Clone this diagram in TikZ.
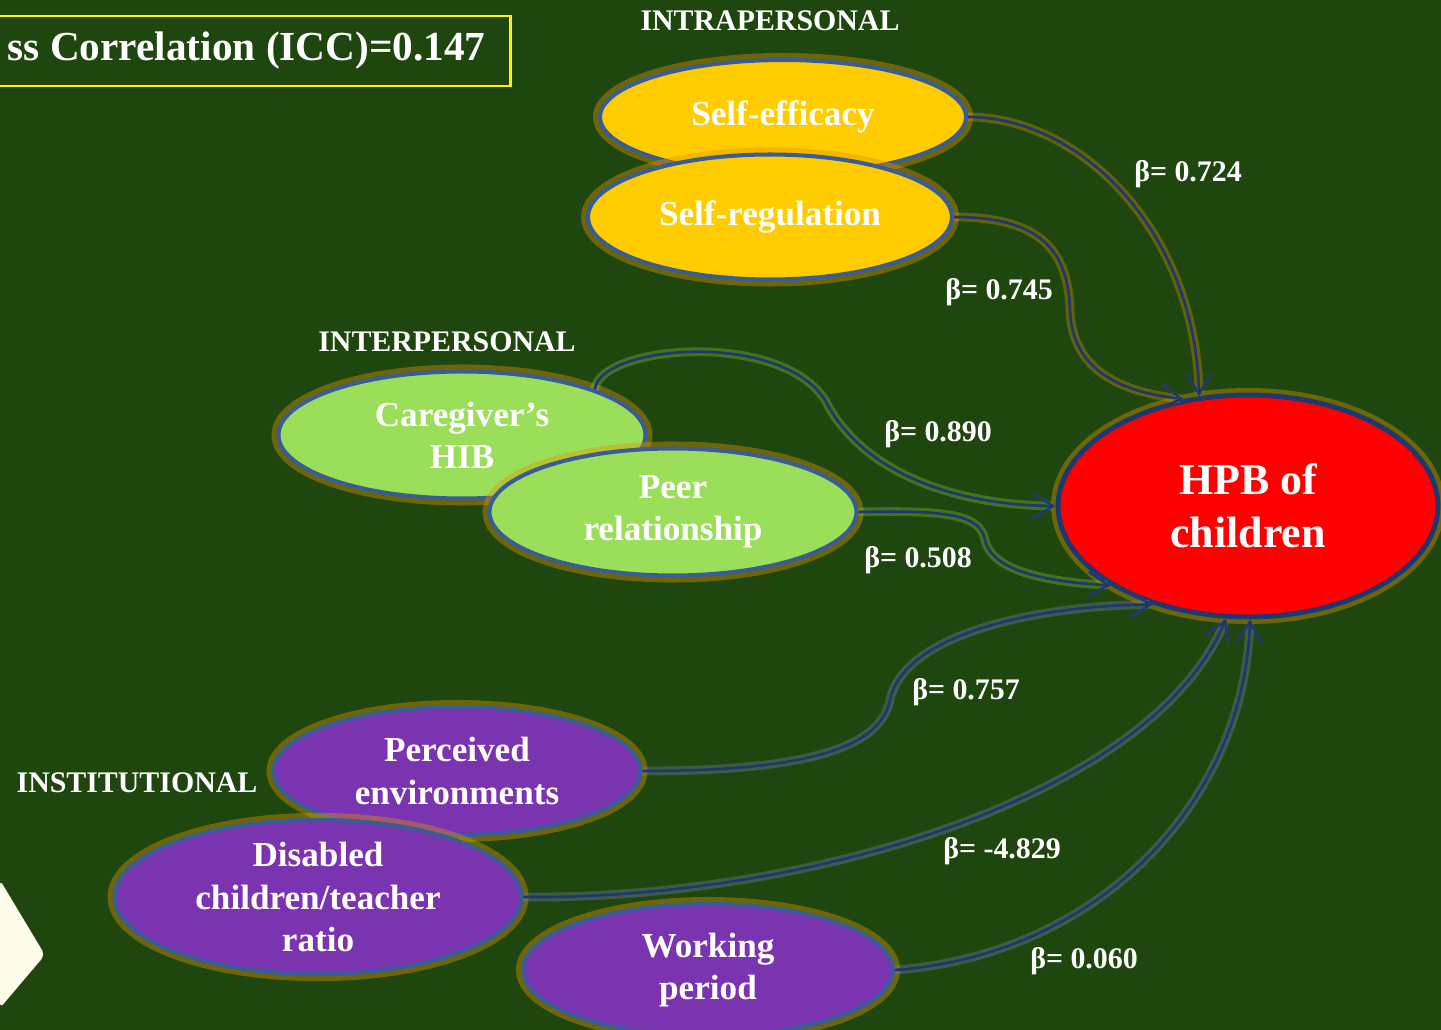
\documentclass[tikz,border=0pt]{standalone}
\usepackage{fontspec}
\setmainfont{Liberation Serif}
\usetikzlibrary{arrows.meta,shapes.geometric}

% цвета
\definecolor{fon}{RGB}{31,70,14}
\definecolor{zheltyy}{RGB}{255,204,0}
\definecolor{zelenyy}{RGB}{155,222,89}
\definecolor{fioletovyy}{RGB}{122,52,176}
\definecolor{krasnyy}{RGB}{255,0,0}
\definecolor{ramka}{RGB}{58,92,150}
\definecolor{svet}{RGB}{225,150,0}
\definecolor{liniya}{RGB}{30,55,110}
\definecolor{svetzel}{RGB}{130,200,60}
\definecolor{svetfiol}{RGB}{130,130,180}
\definecolor{krem}{RGB}{255,251,234}

\begin{document}
\begin{tikzpicture}[x=0.02cm, y=-0.02cm,
	oval/.style={ellipse, draw=ramka, line width=2.3pt, fill=#1, text=white,
		font=\fontsize{20}{24}\selectfont\bfseries, align=center, inner sep=0pt,
		preaction={draw=svet, line width=8pt, opacity=0.4}},
	strelka/.style={draw=liniya, line width=1.5pt,
		preaction={draw=#1, line width=5pt, opacity=0.35}},
	konec/.style={-{Straight Barb[length=4mm,width=5mm,line width=1.5pt]}},
	beta/.style={text=white, font=\fontsize{17}{20}\selectfont\bfseries},
	zag/.style={text=white, font=\fontsize{17}{20}\selectfont\bfseries}]

	% фон
	\fill[fon] (0,0) rectangle (1441,1030);
	\useasboundingbox (0,0) rectangle (1441,1030);

	% белый уголок слева внизу
	\fill[krem, rounded corners=3pt] (0,880) -- (45,955) -- (0,1008) -- cycle;

	% рамка с ICC
	\node[draw=yellow, line width=1.5pt, anchor=east, inner xsep=0.5cm,
		minimum height=1.4cm, text=white, font=\fontsize{23.5}{28}\selectfont\bfseries]
		(icc) at (512,51) {ss Correlation (ICC)=0.147};

	% заголовки групп
	\node[zag] (intra) at (770,21) {INTRAPERSONAL};
	\node[zag] (inter) at (447,342) {INTERPERSONAL};
	\node[zag] (inst) at (137,783) {INSTITUTIONAL};

	% внутриличностные
	\node[oval=zheltyy, minimum width=7.32cm, minimum height=2.28cm] (samoeff) at (783,117) {Self-efficacy};
	\node[oval=zheltyy, minimum width=7.28cm, minimum height=2.5cm] (samoreg) at (770,217) {Self-regulation};

	% межличностные
	\node[oval=zelenyy, minimum width=7.34cm, minimum height=2.54cm] (zabota) at (462,435) {Caregiver’s\\HIB};
	\node[oval=zelenyy, minimum width=7.34cm, minimum height=2.54cm] (sverst) at (673,512) {Peer\\relationship};

	% институциональные
	\node[oval=fioletovyy, minimum width=7.34cm, minimum height=2.56cm] (sreda) at (457,771) {Perceived\\environments};
	\node[oval=fioletovyy, minimum width=8.14cm, minimum height=2.72cm] (otnosh) at (318,897) {Disabled\\children/teacher\\ratio};
	\node[oval=fioletovyy, minimum width=7.4cm, minimum height=2.64cm] (stazh) at (708,970) {Working\\period};

	% итог
	\node[oval=krasnyy, draw=liniya, line width=2.8pt, minimum width=7.6cm, minimum height=4.44cm,
		font=\fontsize{25}{30}\selectfont\bfseries] (hpb) at (1248,506) {HPB of\\children};

	% стрелки
	\draw[strelka=svet, konec] (samoeff.east) .. controls (1080,117) and (1195,230) .. (hpb.114);
	\draw[strelka=svet, konec] (samoreg.east) .. controls (1040,217) and (1068,250) .. (1070,310)
		.. controls (1072,370) and (1120,392) .. (hpb.121);
	\draw[strelka=svetzel, konec] (zabota.19) .. controls (600,345) and (780,330) .. (825,400)
		.. controls (860,470) and (950,505) .. (hpb.west);
	\draw[strelka=svetzel, konec] (sverst.east) .. controls (950,510) and (980,515) .. (985,540)
		.. controls (992,572) and (1050,582) .. (hpb.210);
	\draw[strelka=svetfiol, konec] (sreda.east) .. controls (800,771) and (880,750) .. (890,700)
		.. controls (905,630) and (1050,605) .. (hpb.226);
	\draw[strelka=svetfiol, konec] (otnosh.east) .. controls (800,900) and (1150,800) .. (hpb.259);
	\draw[strelka=svetfiol, konec] (stazh.east) .. controls (1100,955) and (1245,800) .. (hpb.271);

	% коэффициенты
	\node[beta] (b1) at (1188,174) {β= 0.724};
	\node[beta] (b2) at (999,292) {β= 0.745};
	\node[beta] (b3) at (938,434) {β= 0.890};
	\node[beta] (b4) at (918,560) {β= 0.508};
	\node[beta] (b5) at (966,692) {β= 0.757};
	\node[beta] (b6) at (1002,851) {β= -4.829};
	\node[beta] (b7) at (1084,961) {β= 0.060};
\end{tikzpicture}
\end{document}
